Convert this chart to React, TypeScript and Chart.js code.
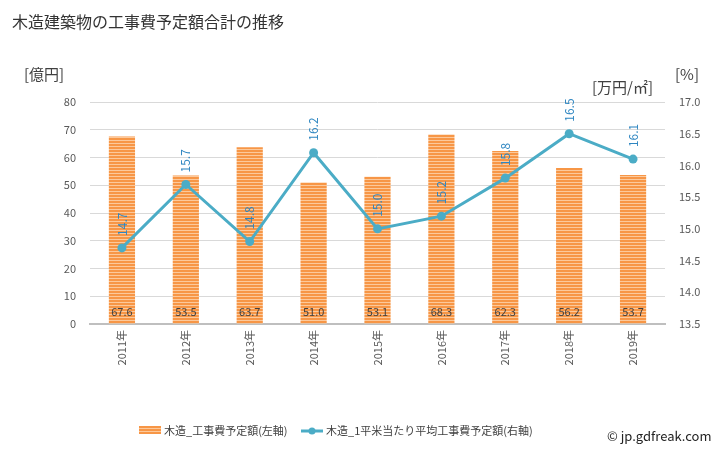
import React, { useEffect, useRef } from "react";
import { Chart, registerables } from "chart.js";
Chart.register(...registerables);

const categories = ["2011年", "2012年", "2013年", "2014年", "2015年", "2016年", "2017年", "2018年", "2019年"];
const costValues = [67.6, 53.5, 63.7, 51.0, 53.1, 68.3, 62.3, 56.2, 53.7];
const perSqmValues = [14.7, 15.7, 14.8, 16.2, 15.0, 15.2, 15.8, 16.5, 16.1];
const barLabel = "木造_工事費予定額(左軸)";
const lineLabel = "木造_1平米当たり平均工事費予定額(右軸)";
const titleText = "木造建築物の工事費予定額合計の推移";

const FONT = "'Noto Sans CJK JP', 'Noto Sans', sans-serif";

function makePattern(ctx: CanvasRenderingContext2D) {
  const c = document.createElement("canvas");
  c.width = 4;
  c.height = 3;
  const p = c.getContext("2d")!;
  p.fillStyle = "#F79646";
  p.fillRect(0, 0, 4, 2);
  p.fillStyle = "#FCC99B";
  p.fillRect(0, 2, 4, 1);
  return ctx.createPattern(c, "repeat")!;
}

const overlayPlugin = {
  id: "overlay",
  afterDatasetsDraw(chart: any) {
    const ctx = chart.ctx as CanvasRenderingContext2D;
    const bars = chart.getDatasetMeta(0).data;
    const pts = chart.getDatasetMeta(1).data;
    const yBottom = chart.scales.y.getPixelForValue(0);
    ctx.save();
    ctx.font = `11px ${FONT}`;
    ctx.fillStyle = "#404040";
    ctx.textAlign = "center";
    ctx.textBaseline = "middle";
    bars.forEach((b: any, i: number) => {
      ctx.fillText(costValues[i].toFixed(1), b.x, yBottom - 12);
    });
    ctx.fillStyle = "#2E86C1";
    ctx.font = `12px ${FONT}`;
    pts.forEach((p: any, i: number) => {
      ctx.save();
      ctx.translate(p.x, p.y - 12);
      ctx.rotate(-Math.PI / 2);
      ctx.textAlign = "left";
      ctx.textBaseline = "middle";
      ctx.fillText(perSqmValues[i].toFixed(1), 0, 0);
      ctx.restore();
    });
    ctx.restore();
  },
  afterDraw(chart: any) {
    const ctx = chart.ctx as CanvasRenderingContext2D;
    ctx.save();
    ctx.fillStyle = "#333333";
    ctx.font = `16px ${FONT}`;
    ctx.textBaseline = "middle";
    ctx.textAlign = "left";
    ctx.fillText(titleText, 12, 22);
    ctx.font = `15px ${FONT}`;
    ctx.fillStyle = "#404040";
    ctx.fillText("[億円]", 24, 74);
    ctx.fillText("[万円/㎡]", 592, 87);
    ctx.fillText("[%]", 675, 74);
    // legend
    ctx.font = `11px ${FONT}`;
    ctx.fillStyle = (chart as any)._pattern;
    ctx.fillRect(139, 426, 22, 8);
    ctx.fillStyle = "#404040";
    ctx.fillText(barLabel, 164, 431);
    ctx.strokeStyle = "#4BACC6";
    ctx.lineWidth = 3;
    ctx.beginPath();
    ctx.moveTo(301, 431);
    ctx.lineTo(323, 431);
    ctx.stroke();
    ctx.fillStyle = "#4BACC6";
    ctx.beginPath();
    ctx.arc(312, 431, 3.5, 0, Math.PI * 2);
    ctx.fill();
    ctx.fillStyle = "#404040";
    ctx.fillText(lineLabel, 326, 431);
    ctx.font = `13px ${FONT}`;
    ctx.fillStyle = "#222222";
    ctx.fillText("© jp.gdfreak.com", 607, 436);
    ctx.restore();
  },
};

export default function App() {
  const ref = useRef<HTMLCanvasElement>(null);
  useEffect(() => {
    const canvas = ref.current!;
    const ctx = canvas.getContext("2d")!;
    const pattern = makePattern(ctx);
    const chart = new Chart(ctx, {
      type: "bar",
      data: {
        labels: categories,
        datasets: [
          {
            type: "bar",
            label: barLabel,
            data: costValues,
            backgroundColor: pattern as any,
            borderColor: "#F79646",
            borderWidth: 0,
            barPercentage: 0.41,
            categoryPercentage: 1,
            yAxisID: "y",
            order: 2,
          },
          {
            type: "line",
            label: lineLabel,
            data: perSqmValues,
            borderColor: "#4BACC6",
            backgroundColor: "#4BACC6",
            borderWidth: 3,
            pointRadius: 4.5,
            pointBackgroundColor: "#4BACC6",
            pointBorderWidth: 0,
            yAxisID: "y1",
            order: 1,
          } as any,
        ],
      },
      options: {
        responsive: false,
        animation: false,
        layout: { padding: { top: 102, bottom: 58, left: 0, right: 0 } },
        plugins: { legend: { display: false }, title: { display: false }, tooltip: { enabled: false } },
        scales: {
          x: {
            grid: { display: false, drawTicks: false },
            border: { color: "#BFBFBF", width: 2 },
            ticks: {
              color: "#595959",
              font: { size: 11, family: FONT },
              maxRotation: 90,
              minRotation: 90,
              padding: 6,
            },
            afterFit: (s: any) => { s.height = 68; },
          },
          y: {
            position: "left",
            min: 0,
            max: 80,
            grid: { color: "#D9D9D9", drawTicks: false },
            border: { display: false },
            ticks: { stepSize: 10, color: "#595959", font: { size: 11, family: FONT }, padding: 14 },
            afterFit: (s: any) => { s.width = 90; },
          },
          y1: {
            position: "right",
            min: 13.5,
            max: 17,
            grid: { display: false, drawTicks: false },
            border: { display: false },
            ticks: {
              stepSize: 0.5,
              color: "#595959",
              font: { size: 11, family: FONT },
              padding: 14,
              callback: (v: any) => Number(v).toFixed(1),
            },
            afterFit: (s: any) => { s.width = 63; },
          },
        },
      },
      plugins: [overlayPlugin],
    });
    (chart as any)._pattern = pattern;
    chart.draw();
    return () => chart.destroy();
  }, []);
  return (
    <div style={{ position: "fixed", left: 0, top: 0, width: 728, height: 450, background: "#fff" }}>
      <canvas ref={ref} width={728} height={450} />
    </div>
  );
}
